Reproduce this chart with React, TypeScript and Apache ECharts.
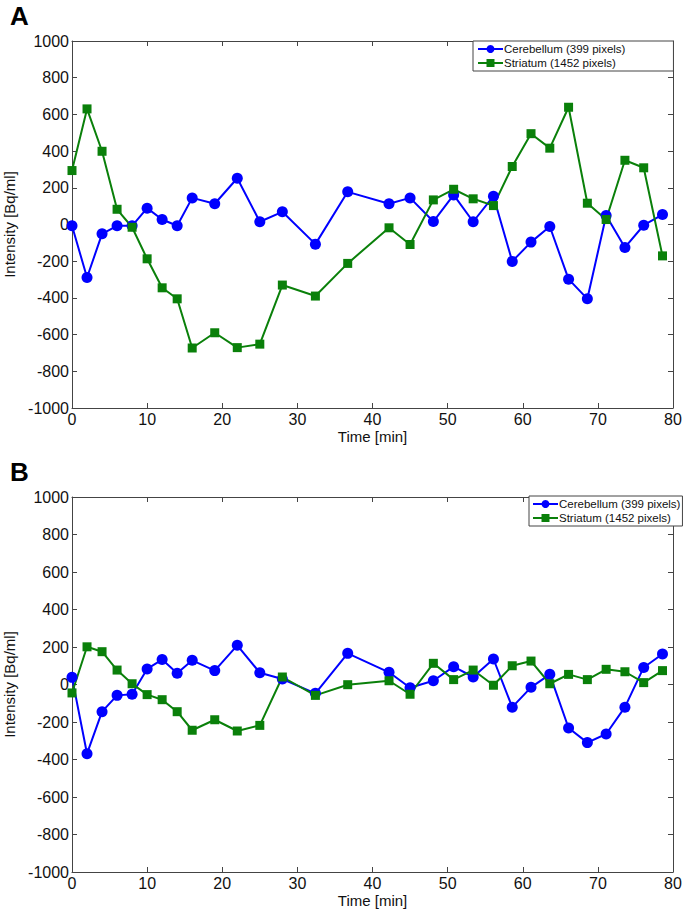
import React, { useEffect, useRef } from "react";
import * as echarts from "echarts";

const times = [0, 2, 4, 6, 8, 10, 12, 14, 16, 19, 22, 25, 28, 32.4, 36.7, 42.2, 45, 48.1, 50.8, 53.4, 56.1, 58.6, 61.1, 63.6, 66.1, 68.6, 71.1, 73.6, 76.1, 78.6];
const cerebellumA = [-7, -289, -51, -7, -7, 89, 27, -7, 145, 113, 252, 15, 69, -107, 178, 113, 145, 16, 161, 15, 154, -201, -96, -11, -298, -405, 49, -125, -4, 54];
const striatumA = [294, 630, 399, 83, -15, -187, -345, -405, -673, -590, -671, -652, -330, -390, -212, -18, -109, 134, 192, 140, 103, 316, 495, 416, 639, 116, 27, 350, 309, -171];
const cerebellumB = [38, -369, -145, -58, -52, 83, 133, 60, 129, 74, 209, 63, 29, -47, 166, 65, -17, 20, 95, 40, 136, -121, -15, 54, -232, -310, -264, -121, 91, 163];
const striatumB = [-45, 201, 175, 77, 4, -54, -81, -145, -244, -188, -248, -218, 40, -58, -1, 20, -52, 113, 26, 77, -4, 100, 125, 4, 54, 26, 81, 68, 10, 74];

const seriesNames = ["Cerebellum (399 pixels)", "Striatum (1452 pixels)"];
const panelLabels = ["A", "B"];
const xName = "Time [min]";
const yName = "Intensity [Bq/ml]";

const FONT = "'Liberation Sans', Arial, Helvetica, sans-serif";
const BLUE = "#0000ff";
const GREEN = "#0a800a";
const AX = "#444";

const pairs = (vals: number[]) => times.map((t, i) => [t, vals[i]]);

export default function App() {
  const ref = useRef<HTMLDivElement>(null);
  useEffect(() => {
    if (!ref.current) return;
    const chart = echarts.init(ref.current, null, { renderer: "svg" });
    const grids = [
      { left: 72, top: 41, width: 601, height: 367, containLabel: false, outerBoundsMode: "none" },
      { left: 72, top: 497, width: 601, height: 375, containLabel: false, outerBoundsMode: "none" },
    ];
    const xAxes: any[] = [];
    const yAxes: any[] = [];
    const fmt = (v: number) => String(v);
    grids.forEach((_, gi) => {
      const common = {
        type: "value",
        gridIndex: gi,
        axisLine: { show: true, onZero: false, lineStyle: { color: AX, width: 1 } },
        axisTick: { show: true, inside: true, length: 5, lineStyle: { color: AX } },
        splitLine: { show: false },
      };
      xAxes.push({
        ...common,
        position: "bottom",
        min: 0,
        max: 80,
        interval: 10,
        name: xName,
        nameLocation: "middle",
        nameGap: 21,
        nameTextStyle: { fontFamily: FONT, fontSize: 15, color: "#111" },
        axisLabel: { margin: 3, fontFamily: FONT, fontSize: 16, color: "#111", formatter: fmt },
      });
      xAxes.push({
        ...common,
        position: "top",
        min: 0,
        max: 80,
        interval: 10,
        axisLabel: { show: false },
      });
      yAxes.push({
        ...common,
        position: "left",
        min: -1000,
        max: 1000,
        interval: 200,
        name: yName,
        nameLocation: "middle",
        nameGap: 42,
        nameTextStyle: { fontFamily: FONT, fontSize: 15, color: "#111" },
        axisLabel: { margin: 3, fontFamily: FONT, fontSize: 16, color: "#111", formatter: fmt },
      });
      yAxes.push({
        ...common,
        position: "right",
        min: -1000,
        max: 1000,
        interval: 200,
        axisLabel: { show: false },
      });
    });

    const mk = (name: string, vals: number[], gi: number, color: string, symbol: string, size: number) => ({
      type: "line",
      name,
      xAxisIndex: gi * 2,
      yAxisIndex: gi * 2,
      data: pairs(vals),
      symbol,
      symbolSize: size,
      showAllSymbol: true,
      lineStyle: { color, width: 2 },
      itemStyle: { color },
    });

    const legendCommon = {
      orient: "vertical",
      backgroundColor: "#fff",
      borderColor: AX,
      borderWidth: 1,
      borderRadius: 0,
      itemWidth: 25,
      itemHeight: 10,
      itemGap: 2,
      textStyle: { fontFamily: FONT, fontSize: 11.5, color: "#111", padding: [0, 0, 0, -4] },
      data: seriesNames,
      selectedMode: false,
    };

    chart.setOption({
      animation: false,
      backgroundColor: "#fff",
      grid: grids,
      xAxis: xAxes,
      yAxis: yAxes,
      legend: [
        { ...legendCommon, left: 473, top: 41, padding: [2, 48, 2, 4] },
        { ...legendCommon, left: 529, top: 496, padding: [2, 2, 2, 3] },
      ],
      graphic: [
        { type: "text", left: 10, top: 3, style: { text: panelLabels[0], fontFamily: FONT, fontSize: 26, fontWeight: "bold", fill: "#000" } },
        { type: "text", left: 10, top: 459, style: { text: panelLabels[1], fontFamily: FONT, fontSize: 26, fontWeight: "bold", fill: "#000" } },
      ],
      series: [
        mk(seriesNames[0], cerebellumA, 0, BLUE, "circle", 11),
        mk(seriesNames[1], striatumA, 0, GREEN, "rect", 9),
        mk(seriesNames[0], cerebellumB, 1, BLUE, "circle", 11),
        mk(seriesNames[1], striatumB, 1, GREEN, "rect", 9),
      ],
    });
    return () => chart.dispose();
  }, []);
  return (
    <div
      ref={ref}
      style={{ position: "absolute", left: 0, top: 0, width: 685, height: 911, background: "#fff" }}
    />
  );
}
